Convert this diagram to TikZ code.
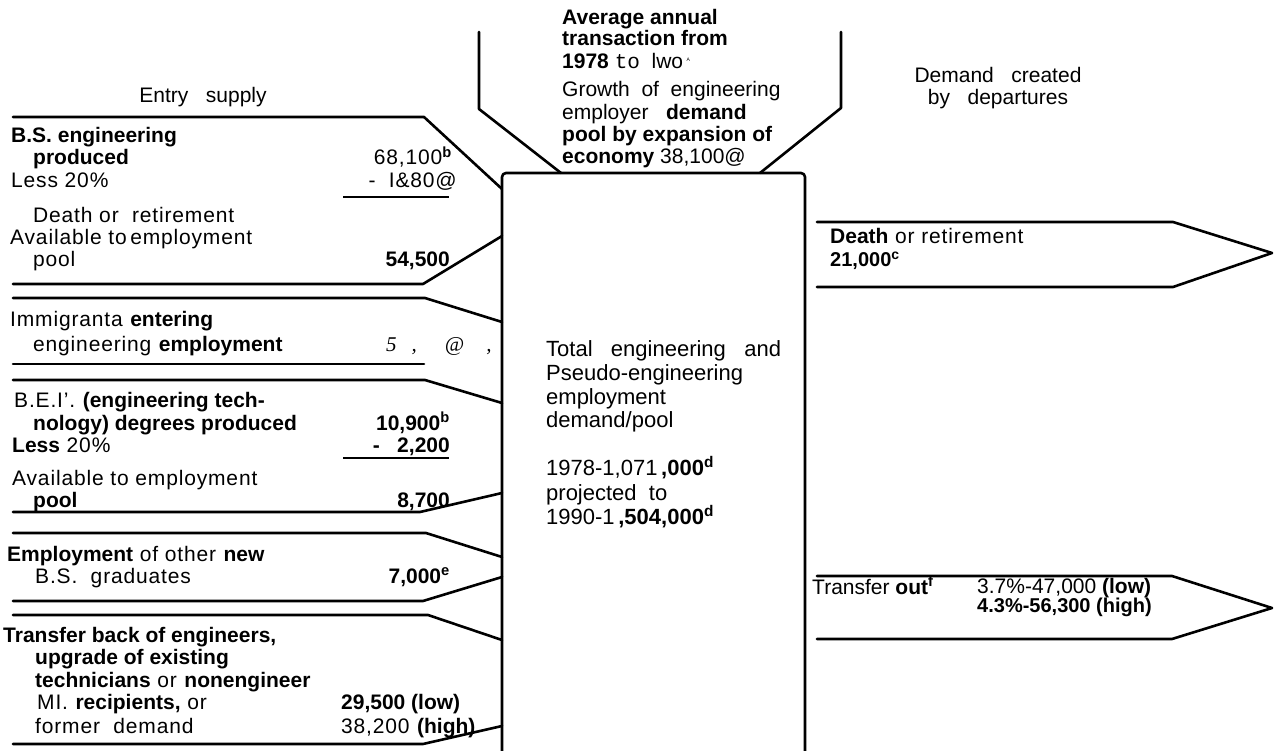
\documentclass[tikz,border=0pt]{standalone}
\usepackage{fontspec}
\setmainfont{Liberation Sans}[UprightFeatures={LetterSpace=4}]
\newfontfamily\plainf{Liberation Sans}
\newfontfamily\monof{Liberation Mono}
\newfontfamily\serifit{Liberation Serif}
\begin{document}
\begin{tikzpicture}[x=1pt,y=-1pt]
\tikzset{
  flow/.style={line width=2.6pt, line join=round, line cap=round},
  rulebar/.style={line width=1.8pt},
  txt/.style={inner sep=0pt, anchor=base west, font=\fontsize{21}{22}\selectfont},
  txtr/.style={txt, anchor=base east},
  ptxt/.style={inner sep=0pt, anchor=base west, font=\plainf\fontsize{21}{22}\selectfont},
  ctxt/.style={inner sep=0pt, anchor=base west, font=\plainf\fontsize{22}{24}\selectfont},
  txtc/.style={inner sep=0pt, anchor=center, font=\plainf\fontsize{21}{23}\selectfont},
}
\useasboundingbox (0,0) rectangle (1274,751);
% central box
\coordinate (boxTL) at (502,173);
\coordinate (boxTR) at (805,173);
\coordinate (boxBL) at (502,751);
\coordinate (boxBR) at (805,751);
\draw[flow, rounded corners=4pt] (boxBL) -- (boxTL) -- (boxTR) -- (boxBR);
% top funnel
\draw[flow] (479,32) -- (479,109) -- (561,173);
\draw[flow] (841,32) -- (841,108) -- (760,173);
% left arrows
\draw[flow] (13,117) -- (424,117) -- (502,189);
\draw[flow] (13,284) -- (423,284) -- (502,236);
\draw[flow] (13,298) -- (425,298) -- (502,322);
\draw[flow] (13,364) -- (424,364);
\draw[flow] (13,380) -- (425,380) -- (502,403);
\draw[flow] (13,512) -- (420,512) -- (502,493);
\draw[flow] (13,533) -- (426,533) -- (502,557);
\draw[flow] (13,601) -- (423,601) -- (502,577);
\draw[flow] (13,615) -- (428,615) -- (502,640);
\draw[flow] (13,744) -- (423,744) -- (502,726);
% right arrows
\draw[flow] (817,222) -- (1173,222) -- (1272,253) -- (1173,287) -- (817,287);
\draw[flow] (817,576) -- (1172,576) -- (1272,608) -- (1172,639) -- (817,639);
% underlines
\draw[rulebar] (343,197) -- (449,197);
\draw[rulebar] (343,458) -- (449,458);
% headings
\node[txtc] (es) at (203,97) {Entry\ \ \ supply};
\node[txtc] (dc1) at (998,75) {Demand\ \ \ created};
\node[txtc] (dc2) at (998,99) {by\ \ \ departures};
% B.S. block
\node[txt] (bs1) at (11,143) {\textbf{B.S. engineering}};
\node[txt] (bs2) at (33,165) {\textbf{produced}};
\node[txtr] (bs2n) at (452,165) {68,100\textsuperscript{\textbf{b}}};
\node[txt] (bs3) at (11,188) {Less 20\%};
\node[txtr] (bs3n) at (457,188) {-\ \ I\&80@};
\node[txt] (bs4) at (33,223) {Death or\ \ retirement};
\node[txt] (bs5) at (10,245) {Available to\,employment};
\node[txt] (bs6) at (33,267) {pool};
\node[txtr] (bs6n) at (450,267) {\textbf{54,500}};
% immigrants
\node[txt] (im1) at (10,326) {Immigranta \textbf{entering}};
\node[txt] (im2) at (33,351) {engineering \textbf{employment}};
\node[txt] (im2n) at (386,351) {\serifit\itshape 5\hspace{15pt},\hspace{28pt}@\hspace{22pt},};
% BET
\node[txt] (be1) at (14,407) {B.E.I'. \textbf{(engineering tech-}};
\node[txt] (be2) at (33,430) {\textbf{nology) degrees produced}};
\node[txtr] (be2n) at (450,430) {\textbf{10,900\textsuperscript{b}}};
\node[txt] (be3) at (12,452) {\textbf{Less} 20\%};
\node[txtr] (be3n) at (450,452) {\textbf{-\ \ \ 2,200}};
\node[txt] (be4) at (12,485) {Available to employment};
\node[txt] (be5) at (33,507) {\textbf{pool}};
\node[txtr] (be5n) at (450,507) {\textbf{8,700}};
% employment of other
\node[txt] (em1) at (7,561) {\textbf{Employment} of other \textbf{new}};
\node[txt] (em2) at (35,583) {B.S.\ \ graduates};
\node[txtr] (em2n) at (450,583) {\textbf{7,000\textsuperscript{e}}};
% transfer back
\node[txt] (tb1) at (3,642) {\textbf{Transfer back of engineers,}};
\node[txt] (tb2) at (35,664) {\textbf{upgrade of existing}};
\node[txt] (tb3) at (35,687) {\textbf{technicians} or \textbf{nonengineer}};
\node[txt] (tb4) at (37,709) {MI. \textbf{recipients,} or};
\node[txt] (tb4n) at (341,709) {\textbf{29,500 (low)}};
\node[txt] (tb5) at (35,733) {former\ \ demand};
\node[txt] (tb5n) at (341,733) {38,200 \textbf{(high)}};
% top text
\node[ptxt] (tp1) at (562,25) {\textbf{Average annual}};
\node[ptxt] (tp2) at (562,46) {\textbf{transaction from}};
\node[ptxt] (tp3) at (562,69) {\textbf{1978} {\monof to}\ \ lwo\,\textsuperscript{\tiny A}};
\node[ptxt] (tp4) at (562,97) {Growth\ \ of\ \ engineering};
\node[ptxt] (tp5) at (562,120) {employer\ \ \ \textbf{demand}};
\node[ptxt] (tp6) at (562,142) {\textbf{pool by expansion of}};
\node[ptxt] (tp7) at (562,164) {\textbf{economy} 38,100@};
% centre
\node[ctxt] (c1) at (546,356) {Total\ \ \ engineering\ \ \ and};
\node[ctxt] (c2) at (546,380) {Pseudo-engineering};
\node[ctxt] (c3) at (546,404) {employment};
\node[ctxt] (c4) at (546,427) {demand/pool};
\node[ctxt] (c5) at (546,475) {1978-1,071\,\textbf{,000\textsuperscript{d}}};
\node[ctxt] (c6) at (546,500) {projected\ \ to};
\node[ctxt] (c7) at (546,524) {1990-1\,\textbf{,504,000\textsuperscript{d}}};
% right texts
\node[txt] (r1a) at (830,244) {\textbf{Death} or retirement};
\node[txt, font=\fontsize{20}{20}\selectfont] (r1b) at (830,267) {\textbf{21,000\textsuperscript{c}}};
\node[ptxt] (r2a) at (812,594) {Transfer \textbf{out\textsuperscript{f}}};
\node[ptxt] (r2b) at (977,593) {3.7\%-47,000 \textbf{(low)}};
\node[ptxt, font=\plainf\fontsize{20}{20}\selectfont] (r2c) at (977,612) {\textbf{4.3\%-56,300 (high)}};
\end{tikzpicture}
\end{document}
